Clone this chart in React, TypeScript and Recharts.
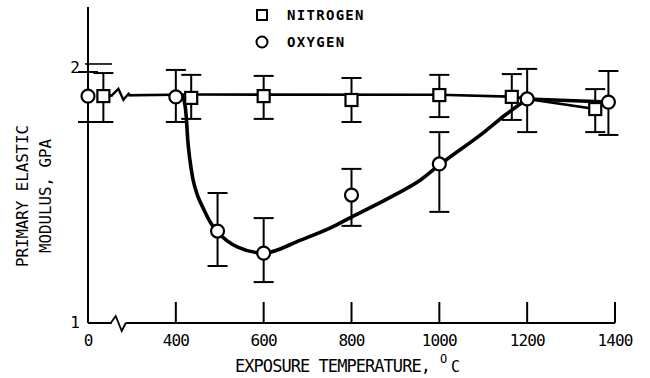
import React from "react";
import {
  ComposedChart,
  ErrorBar,
  Legend,
  Line,
  Scatter,
  XAxis,
  YAxis,
} from "recharts";

const FONT = "'DejaVu Sans Mono', monospace";
const INK = "#000";

// axis ticks (temperature axis is broken between 0 and 400 C)
const tickTemps = [0, 400, 600, 800, 1000, 1200, 1400];
const tickLabels = ["0", "400", "600", "800", "1000", "1200", "1400"];
const modulusTicks = [1, 2];

// measured points, mean with low / high of the scatter band
const nitrogenTemps = [35, 435, 600, 800, 1000, 1165, 1355];
const nitrogenModulus = [1.876, 1.869, 1.876, 1.861, 1.88, 1.873, 1.826];
const nitrogenLow = [1.776, 1.788, 1.788, 1.776, 1.795, 1.784, 1.737];
const nitrogenHigh = [1.965, 1.958, 1.954, 1.946, 1.958, 1.961, 1.903];

const oxygenTemps = [0, 400, 495, 600, 800, 1000, 1200, 1385];
const oxygenModulus = [1.876, 1.873, 1.355, 1.27, 1.494, 1.614, 1.865, 1.853];
const oxygenLow = [1.776, 1.776, 1.22, 1.158, 1.375, 1.429, 1.737, 1.726];
const oxygenHigh = [1.969, 1.977, 1.502, 1.405, 1.595, 1.737, 1.981, 1.973];

// hand-drawn fit curves
const nitrogenFitTemps = [35, 435, 1000, 1165, 1355];
const nitrogenFitModulus = [1.878, 1.882, 1.881, 1.874, 1.826];

const oxygenFitTemps = [
  400, 415, 421, 424, 427, 432, 439, 450, 461, 480, 495, 541, 600, 684, 752,
  800, 889, 957, 1000, 1105, 1150, 1200,
];
const oxygenFitModulus = [
  1.88, 1.872, 1.84, 1.79, 1.71, 1.63, 1.555, 1.49, 1.448, 1.385, 1.352, 1.293,
  1.27, 1.32, 1.367, 1.409, 1.486, 1.552, 1.61, 1.741, 1.803, 1.865,
];
// straight run from 1200 C to the last point
const oxygenTailTemps = [1200, 1385];
const oxygenTailModulus = [1.865, 1.853];

// where the zigzag breaks sit
const axisBreakTemp = 70;
const lineBreakTemp = 76;
const lineBreakModulus = 1.881;

// below 400 C the axis is compressed: 0 C is drawn where 200 would be
const toAxis = (t: number) => (t < 300 ? t + 200 : t);

const points = (temps: number[], vals: number[], lows: number[], highs: number[]) =>
  temps.map((t, i) => ({
    x: toAxis(t),
    y: vals[i],
    err: [vals[i] - lows[i], highs[i] - vals[i]],
  }));

const curve = (temps: number[], vals: number[]) =>
  temps.map((t, i) => ({ x: toAxis(t), y: vals[i] }));

const nitrogenData = points(nitrogenTemps, nitrogenModulus, nitrogenLow, nitrogenHigh);
const oxygenData = points(oxygenTemps, oxygenModulus, oxygenLow, oxygenHigh);
const nitrogenFit = curve(nitrogenFitTemps, nitrogenFitModulus);
const oxygenFit = curve(oxygenFitTemps, oxygenFitModulus);
const oxygenTail = curve(oxygenTailTemps, oxygenTailModulus);
const axisBreak = [{ x: toAxis(axisBreakTemp), y: 1 }];
const lineBreak = [{ x: toAxis(lineBreakTemp), y: lineBreakModulus }];

function SquareDot({ cx, cy }: any) {
  if (cx == null || cy == null) return null;
  return (
    <rect x={cx - 6} y={cy - 6} width={12} height={12} fill="#fff" stroke={INK} strokeWidth={2.2} />
  );
}

function CircleDot({ cx, cy }: any) {
  if (cx == null || cy == null) return null;
  return <circle cx={cx} cy={cy} r={6.5} fill="#fff" stroke={INK} strokeWidth={2.2} />;
}

function AxisBreak({ cx, cy }: any) {
  if (cx == null || cy == null) return null;
  return (
    <g>
      <rect x={cx - 7} y={cy - 3} width={14} height={6} fill="#fff" />
      <path
        d={`M${cx - 8},${cy} L${cx - 3},${cy - 7} L${cx + 3},${cy + 8} L${cx + 7},${cy}`}
        fill="none"
        stroke={INK}
        strokeWidth={1.8}
      />
    </g>
  );
}

function LineBreak({ cx, cy }: any) {
  if (cx == null || cy == null) return null;
  return (
    <g>
      <rect x={cx - 9} y={cy - 4} width={16} height={8} fill="#fff" />
      <path
        d={`M${cx - 10},${cy + 1} L${cx - 3},${cy - 6} L${cx + 2},${cy + 5} L${cx + 8},${cy - 2}`}
        fill="none"
        stroke={INK}
        strokeWidth={2.4}
      />
    </g>
  );
}

function XTick({ x, y, payload }: any) {
  const i = tickTemps.map(toAxis).indexOf(payload.value);
  return (
    <g>
      {i > 0 && <line x1={x} y1={y} x2={x} y2={y - 21} stroke={INK} strokeWidth={2} />}
      <text
        x={x}
        y={y + 23}
        textAnchor="middle"
        fontFamily={FONT}
        fontSize={16}
        letterSpacing={-0.9}
        fill={INK}
      >
        {tickLabels[i]}
      </text>
    </g>
  );
}

function YTick({ x, y, payload }: any) {
  const top = payload.value === 2;
  return (
    <g>
      {top && <line x1={x - 3} y1={y} x2={x + 24} y2={y} stroke={INK} strokeWidth={1.6} />}
      <text
        x={x - 13}
        y={top ? y + 9 : y + 5}
        textAnchor="middle"
        fontFamily={FONT}
        fontSize={16}
        fill={INK}
      >
        {payload.value}
      </text>
    </g>
  );
}

function XTitle() {
  return (
    <text x={235} y={372} fill={INK} fontFamily={FONT} fontSize={17} letterSpacing={-0.95}>
      EXPOSURE TEMPERATURE,
      <tspan x={440} dy={-9} fontSize={12} letterSpacing={0}>
        O
      </tspan>
      <tspan x={451} dy={9} fontSize={15} letterSpacing={0}>
        C
      </tspan>
    </text>
  );
}

function YTitle() {
  return (
    <g fill={INK} fontFamily={FONT} fontSize={16} textAnchor="middle">
      <text
        x={22}
        y={196}
        dy={6}
        transform="rotate(-90 22 196)"
        textLength={142}
        lengthAdjust="spacingAndGlyphs"
      >
        PRIMARY ELASTIC
      </text>
      <text
        x={45}
        y={196}
        dy={6}
        transform="rotate(-90 45 196)"
        textLength={114}
        lengthAdjust="spacingAndGlyphs"
      >
        MODULUS, GPA
      </text>
    </g>
  );
}

function LegendBox({ payload }: any) {
  const items = (payload || []).filter((p: any) => p.value === "NITROGEN" || p.value === "OXYGEN");
  return (
    <div style={{ fontFamily: FONT, fontWeight: "bold", fontSize: 14, letterSpacing: 1.3, color: INK }}>
      {items.map((p: any, i: number) => (
        <div
          key={p.value}
          style={{ display: "flex", alignItems: "center", height: 20, marginTop: i ? 7 : 0 }}
        >
          <svg width={14} height={14}>
            {p.value === "NITROGEN" ? (
              <rect x={2} y={2} width={10} height={10} fill="#fff" stroke={INK} strokeWidth={2} />
            ) : (
              <circle cx={7} cy={7} r={5.5} fill="#fff" stroke={INK} strokeWidth={2} />
            )}
          </svg>
          <span style={{ marginLeft: 18 }}>{p.value}</span>
        </div>
      ))}
    </div>
  );
}

export default function App() {
  return (
    <div style={{ position: "absolute", left: 0, top: 0, width: 650, height: 378, background: "#fff" }}>
      <ComposedChart width={650} height={378} margin={{ top: 7, right: 35, bottom: 0, left: 28 }}>
        <XAxis
          type="number"
          dataKey="x"
          domain={[toAxis(0), 1400]}
          ticks={tickTemps.map(toAxis)}
          tick={(p: any) => <XTick {...p} />}
          tickSize={0}
          tickMargin={0}
          tickLine={false}
          axisLine={{ stroke: INK, strokeWidth: 2 }}
          height={55}
          label={<XTitle />}
        />
        <YAxis
          type="number"
          dataKey="y"
          domain={[1, 2.22]}
          ticks={modulusTicks}
          tick={(p: any) => <YTick {...p} />}
          tickSize={0}
          tickMargin={0}
          tickLine={false}
          axisLine={{ stroke: INK, strokeWidth: 2 }}
          width={60}
          label={<YTitle />}
        />
        <Line
          data={nitrogenFit}
          dataKey="y"
          type="linear"
          stroke={INK}
          strokeWidth={2.6}
          dot={false}
          activeDot={false}
          legendType="none"
          isAnimationActive={false}
        />
        <Line
          data={oxygenFit}
          dataKey="y"
          type="monotone"
          stroke={INK}
          strokeWidth={3.6}
          dot={false}
          activeDot={false}
          legendType="none"
          isAnimationActive={false}
        />
        <Line
          data={oxygenTail}
          dataKey="y"
          type="linear"
          stroke={INK}
          strokeWidth={3.6}
          dot={false}
          activeDot={false}
          legendType="none"
          isAnimationActive={false}
        />
        <Scatter data={axisBreak} dataKey="y" shape={<AxisBreak />} legendType="none" isAnimationActive={false} />
        <Scatter data={lineBreak} dataKey="y" shape={<LineBreak />} legendType="none" isAnimationActive={false} />
        <Scatter name="NITROGEN" data={nitrogenData} dataKey="y" shape={<SquareDot />} isAnimationActive={false}>
          <ErrorBar dataKey="err" direction="y" width={10} stroke={INK} strokeWidth={2} isAnimationActive={false} />
        </Scatter>
        <Scatter name="OXYGEN" data={oxygenData} dataKey="y" shape={<CircleDot />} isAnimationActive={false}>
          <ErrorBar dataKey="err" direction="y" width={10} stroke={INK} strokeWidth={2} isAnimationActive={false} />
        </Scatter>
        <Legend
          layout="vertical"
          align="center"
          verticalAlign="middle"
          content={<LegendBox />}
          wrapperStyle={{ position: "absolute", left: 255, top: 5, width: 160 }}
        />
      </ComposedChart>
    </div>
  );
}
